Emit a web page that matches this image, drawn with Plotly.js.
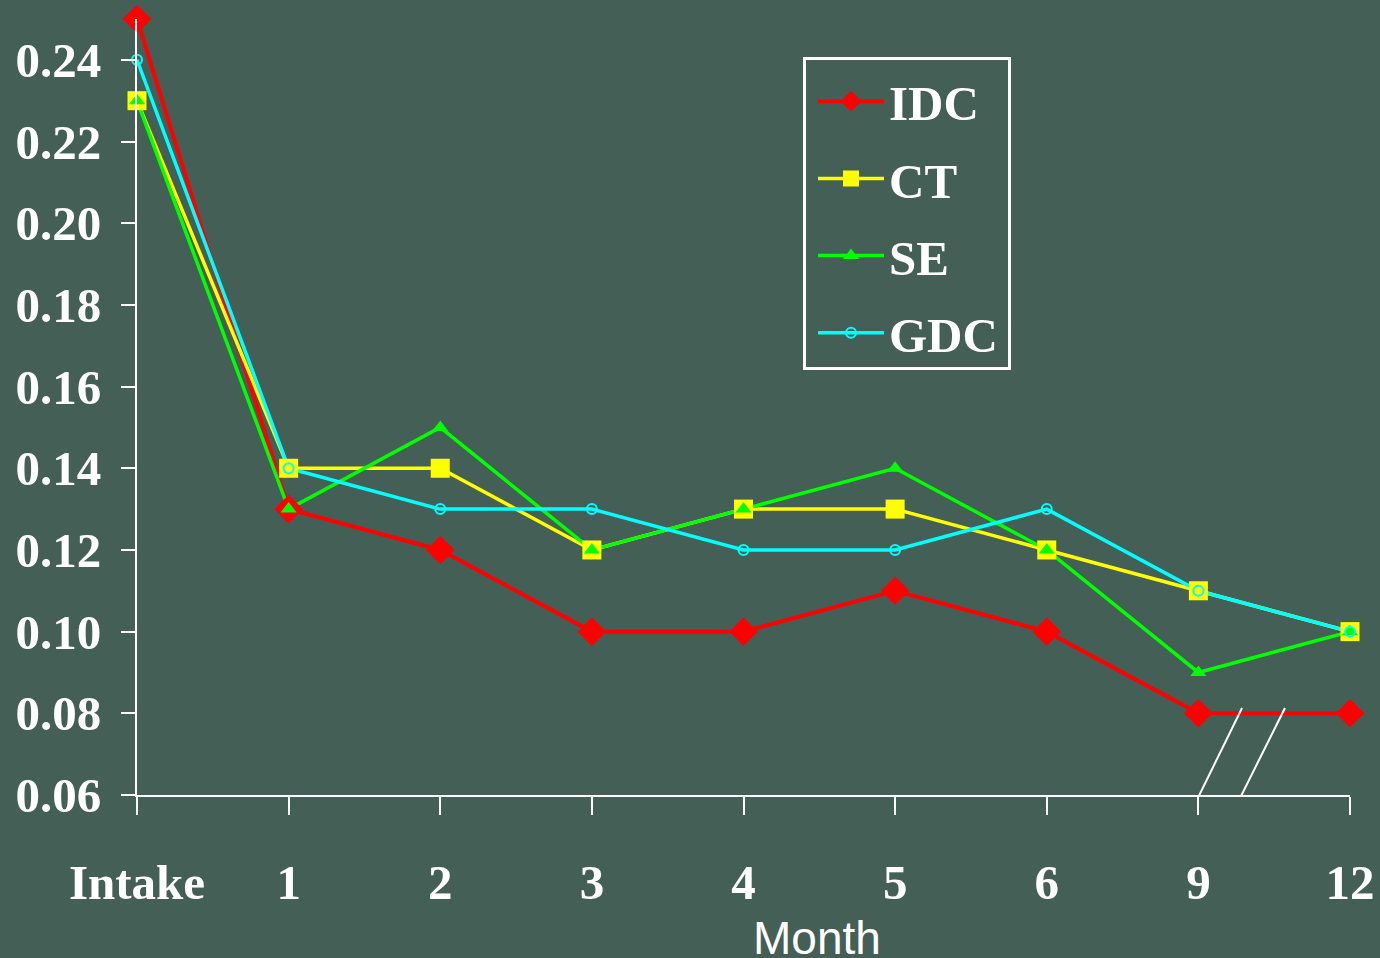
<!DOCTYPE html>
<html>
<head>
<meta charset="utf-8">
<script src="https://cdn.plot.ly/plotly-3.0.1.min.js"></script>
<style>
html,body{margin:0;padding:0;background:#445f55;}
#chart{width:1380px;height:958px;}
</style>
</head>
<body>
<div id="chart"></div>
<script>
const months = ["Intake", "1", "2", "3", "4", "5", "6", "9", "12"];
const idc = [0.25, 0.13, 0.12, 0.10, 0.10, 0.11, 0.10, 0.08, 0.08];
const ct  = [0.23, 0.14, 0.14, 0.12, 0.13, 0.13, 0.12, 0.11, 0.10];
const se  = [0.23, 0.13, 0.15, 0.12, 0.13, 0.14, 0.12, 0.09, 0.10];
const gdc = [0.24, 0.14, 0.13, 0.13, 0.12, 0.12, 0.13, 0.11, 0.10];
const yTicks = [0.06, 0.08, 0.10, 0.12, 0.14, 0.16, 0.18, 0.20, 0.22, 0.24];
const yTickText = ["0.06", "0.08", "0.10", "0.12", "0.14", "0.16", "0.18", "0.20", "0.22", "0.24"];

const BG = '#445f55';
const idx = months.map((m, i) => i);

const series = [
  {name: 'IDC', y: idc, color: '#ff0000', symbol: 'diamond', size: 22, lw: 4},
  {name: 'CT',  y: ct,  color: '#ffff00', symbol: 'square', size: 19, lw: 3.5},
  {name: 'SE',  y: se,  color: '#00ff00', symbol: 'triangle-up', size: 14, lw: 3.5},
  {name: 'GDC', y: gdc, color: '#00ffff', symbol: 'circle-open', size: 10, lw: 3.5}
];

const traces = [];
// lines first
series.forEach(s => traces.push({
  x: idx, y: s.y, type: 'scatter', mode: 'lines', showlegend: false, hoverinfo: 'skip',
  line: {color: s.color, width: s.lw}, cliponaxis: false
}));
// markers on top
series.forEach(s => traces.push({
  x: idx, y: s.y, type: 'scatter', mode: 'markers', showlegend: false, name: s.name,
  marker: {color: s.color, symbol: s.symbol, size: s.size,
           line: {color: s.color, width: s.symbol === 'circle-open' ? 2 : 0}},
  cliponaxis: false
}));
// legend entries
series.forEach((s, i) => traces.push({
  x: [null], y: [null], type: 'scatter', mode: 'lines+markers', name: s.name,
  legendgroup: 'g' + i,
  line: {color: s.color, width: s.lw},
  marker: {color: s.color, symbol: s.symbol, size: Math.min(s.size, 16),
           line: {color: s.color, width: s.symbol === 'circle-open' ? 2 : 0}}
}));

const serif = {family: '"Liberation Serif", "Times New Roman", serif', color: '#ffffff', size: 49, weight: 'bold'};

const layout = {
  width: 1380, height: 958,
  paper_bgcolor: BG, plot_bgcolor: BG,
  margin: {l: 137, r: 30, t: 19, b: 163},
  showlegend: true,
  xaxis: {
    range: [0, 8], tickvals: idx, ticktext: months,
    showgrid: false, zeroline: false,
    showline: true, linecolor: '#ffffff', linewidth: 2,
    ticks: 'outside', ticklen: 18, tickwidth: 2, tickcolor: '#ffffff',
    tickfont: serif, ticklabelstandoff: 25
  },
  yaxis: {
    range: [0.06, 0.25], tickvals: yTicks, ticktext: yTickText,
    showgrid: false, zeroline: false,
    showline: true, linecolor: '#ffffff', linewidth: 2,
    ticks: 'outside', ticklen: 14, tickwidth: 2, tickcolor: '#ffffff',
    tickfont: serif, ticklabelstandoff: 10
  },
  legend: {
    x: 0.5573, y: 0.9435, xanchor: 'left', yanchor: 'top',
    bgcolor: 'rgba(0,0,0,0)', borderwidth: 0,
    font: serif, itemwidth: 66, tracegroupgap: 10.5, itemsizing: 'trace'
  },
  annotations: [{
    text: 'Month', xref: 'paper', yref: 'paper', x: 0.561, y: -0.184,
    xanchor: 'center', yanchor: 'middle', showarrow: false,
    font: {family: '"Liberation Sans", Arial, sans-serif', size: 46, color: '#ffffff'}
  }],
  shapes: [
    {type: 'rect', xref: 'paper', yref: 'paper', x0: 0.5503, y0: 0.5496, x1: 0.7193, y1: 0.9491,
     line: {color: '#ffffff', width: 3}, fillcolor: 'rgba(0,0,0,0)'},
    {type: 'line', xref: 'x', yref: 'y', x0: 6.984, y0: 0.0583, x1: 7.288, y1: 0.0813, line: {color: '#ffffff', width: 2}},
    {type: 'line', xref: 'x', yref: 'y', x0: 7.262, y0: 0.0583, x1: 7.571, y1: 0.0813, line: {color: '#ffffff', width: 2}}
  ]
};

Plotly.newPlot('chart', traces, layout, {displayModeBar: false, staticPlot: true});
</script>
</body>
</html>
